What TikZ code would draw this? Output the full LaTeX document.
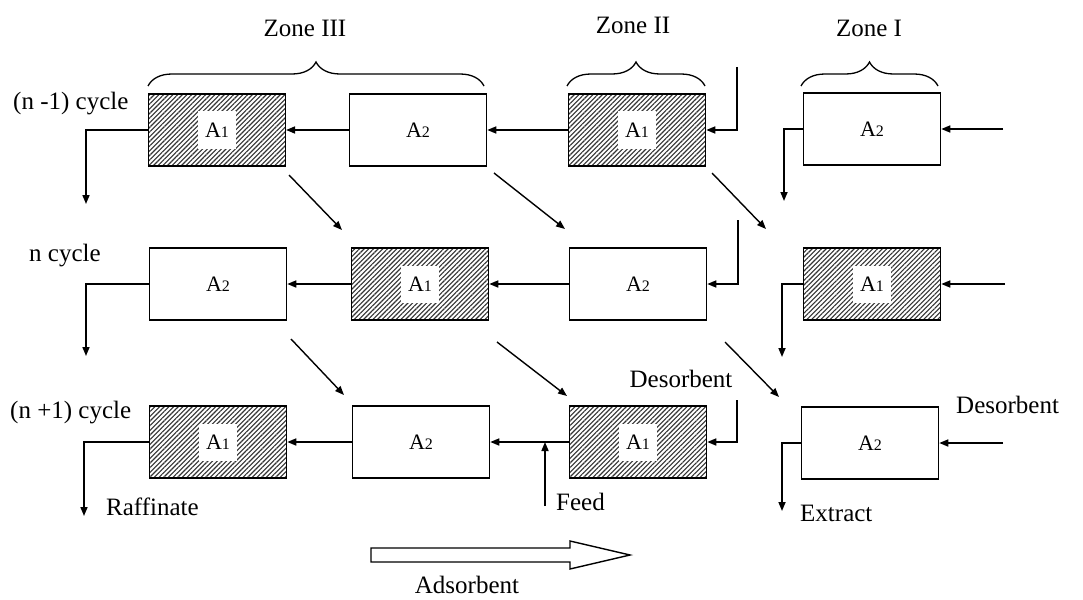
\documentclass[tikz,border=0pt]{standalone}
\usepackage{fontspec}
\setmainfont{Liberation Serif}
\usetikzlibrary{arrows.meta,patterns.meta,decorations.pathreplacing}
\newcommand\Alab[1]{{\fontsize{22}{22}\selectfont A}{\fontsize{16}{16}\selectfont #1}}
\tikzset{
  col/.style={draw=black, line width=1.5pt, minimum width=137pt, minimum height=72pt, inner sep=0pt},
  plainbox/.style={col, fill=white},
  hatchbox/.style={col, pattern={Lines[angle=45,distance=3.3pt,line width=1.1pt]}, pattern color=black!80},
  wlab/.style={fill=white, minimum width=38pt, minimum height=37pt, inner sep=0pt},
  arr/.style={line width=1.6pt, -{Triangle[length=9pt,width=7pt]}},
  txt/.style={font=\fontsize{25}{29}\selectfont, inner sep=0pt},
  zbrace/.style={line width=1.3pt, decorate, decoration={brace, amplitude=24pt}},
}
\begin{document}
\begin{tikzpicture}[x=1pt,y=-1pt]
\useasboundingbox (0,0) rectangle (1083,599);
% boxes
\node[hatchbox] (r1c1) at (217,130) {};
\node[plainbox] (r1c2) at (418,130) {\Alab{2}};
\node[hatchbox] (r1c3) at (637,130) {};
\node[plainbox] (r1c4) at (872,129) {\Alab{2}};
\node[plainbox] (r2c1) at (218,284) {\Alab{2}};
\node[hatchbox] (r2c2) at (420,284) {};
\node[plainbox] (r2c3) at (638,284) {\Alab{2}};
\node[hatchbox] (r2c4) at (872,284) {};
\node[hatchbox] (r3c1) at (218,442) {};
\node[plainbox] (r3c2) at (421,442) {\Alab{2}};
\node[hatchbox] (r3c3) at (638,442) {};
\node[plainbox] (r3c4) at (870,443) {\Alab{2}};
% white labels on hatched boxes
\node[wlab] (l11) at (r1c1) {\Alab{1}};
\node[wlab] (l13) at (r1c3) {\Alab{1}};
\node[wlab] (l22) at (r2c2) {\Alab{1}};
\node[wlab] (l24) at (r2c4) {\Alab{1}};
\node[wlab] (l31) at (r3c1) {\Alab{1}};
\node[wlab] (l33) at (r3c3) {\Alab{1}};
% flows along rows
\draw[arr] (r1c2.west) -- (r1c1.east);
\draw[arr] (r1c3.west) -- (r1c2.east);
\draw[arr] (r2c2.west) -- (r2c1.east);
\draw[arr] (r2c3.west) -- (r2c2.east);
\draw[arr] (r3c2.west) -- (r3c1.east);
\draw[arr] (r3c3.west) -- (r3c2.east);
% inputs from right
\coordinate (i14) at (1003,129);
\coordinate (i24) at (1005,284);
\coordinate (i34) at (1003,443);
\draw[arr] (i14) -- (r1c4.east);
\draw[arr] (i24) -- (r2c4.east);
\draw[arr] (i34) -- (r3c4.east);
\coordinate (i13) at (737,67);
\coordinate (i23) at (738,220);
\coordinate (i33) at (737,400);
\draw[arr] (i13) |- (r1c3.east);
\draw[arr] (i23) |- (r2c3.east);
\draw[arr] (i33) |- (r3c3.east);
% outputs
\coordinate (o14) at (784,201);
\coordinate (o24) at (782,357);
\coordinate (o34) at (782,511);
\draw[arr] (r1c4.west) -| (o14);
\draw[arr] (r2c4.west) -| (o24);
\draw[arr] (r3c4.west) -| (o34);
\coordinate (o11) at (86,204);
\coordinate (o21) at (86,356);
\coordinate (o31) at (84,516);
\draw[arr] (r1c1.west) -| (o11);
\draw[arr] (r2c1.west) -| (o21);
\draw[arr] (r3c1.west) -| (o31);
% feed
\coordinate (feed) at (545,506);
\draw[arr] (feed) -- (feed |- r3c3.west);
% diagonal shift arrows
\coordinate (d1s) at (289,175); \coordinate (d1e) at (342,230);
\coordinate (d2s) at (494,173); \coordinate (d2e) at (565,229);
\coordinate (d3s) at (712,173); \coordinate (d3e) at (766,229);
\coordinate (d4s) at (291,339); \coordinate (d4e) at (344,395);
\coordinate (d5s) at (497,342); \coordinate (d5e) at (567,396);
\coordinate (d6s) at (725,342); \coordinate (d6e) at (779,397);
\foreach \i in {1,...,6} { \draw[line width=1.4pt, -{Triangle[length=9pt,width=7pt]}] (d\i s) -- (d\i e); }
% braces
\coordinate (b3a) at (148,86); \coordinate (b3b) at (484,86);
\coordinate (b2a) at (567,86); \coordinate (b2b) at (705,86);
\coordinate (b1a) at (801,86); \coordinate (b1b) at (938,86);
\draw[zbrace] (b3a) -- (b3b);
\draw[zbrace] (b2a) -- (b2b);
\draw[zbrace] (b1a) -- (b1b);
\node[txt] (z3) at (305,28) {Zone III};
\node[txt] (z2) at (633,25) {Zone II};
\node[txt] (z1) at (869,28) {Zone I};
% cycle labels
\node[txt, anchor=west] (c1) at (13,104) {(n -1) cycle};
\node[txt, anchor=west] (c2) at (29,256) {n cycle};
\node[txt, anchor=west] (c3) at (10,413) {(n +1) cycle};
% stream labels
\node[txt, anchor=west] (raf) at (106,507) {Raffinate};
\node[txt, anchor=west] (fd) at (556,502) {Feed};
\node[txt] (des1) at (681,379) {Desorbent};
\node[txt, anchor=west] (des2) at (956,405) {Desorbent};
\node[txt, anchor=west] (ext) at (800,513) {Extract};
% adsorbent arrow
\draw[line width=1.4pt, fill=white] (371,548) -- (570,548) -- (570,541) -- (630,555) -- (570,569) -- (570,562) -- (371,562) -- cycle;
\node[txt] (ads) at (467,585) {Adsorbent};
\end{tikzpicture}
\end{document}
